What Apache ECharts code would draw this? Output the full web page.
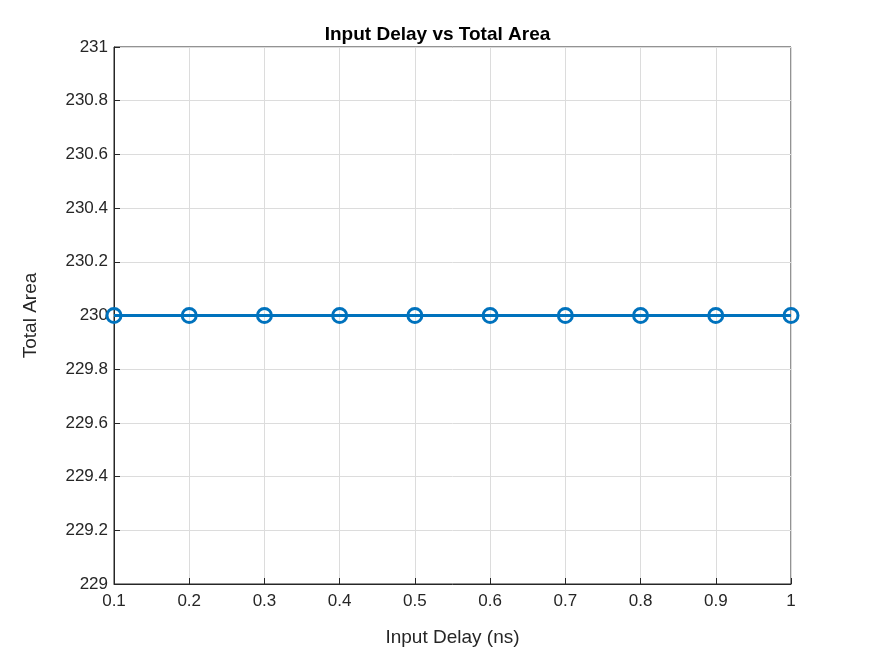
<!DOCTYPE html>
<html><head><meta charset="utf-8">
<script src="https://cdn.jsdelivr.net/npm/echarts@6/dist/echarts.min.js"></script>
<style>html,body{margin:0;background:#fff}#c{width:875px;height:656px}</style>
</head><body><div id="c"></div>
<script>
var delays = [0.1, 0.2, 0.3, 0.4, 0.5, 0.6, 0.7, 0.8, 0.9, 1.0];
var areas = [230, 230, 230, 230, 230, 230, 230, 230, 230, 230];

var chart = echarts.init(document.getElementById('c'));
var fmt = function (v) { return String(+v.toFixed(1)); };
var axisCommon = {
    axisLine: { show: true, lineStyle: { color: '#262626', width: 1 } },
    axisTick: { show: true, inside: true, length: 6, lineStyle: { color: '#262626' } },
    splitLine: { show: true, lineStyle: { color: '#dcdcdc', width: 1 } },
    axisLabel: { color: '#262626', fontSize: 17, fontFamily: 'Liberation Sans' },
    nameTextStyle: { color: '#262626', fontSize: 19, fontFamily: 'Liberation Sans' }
};
chart.setOption({
    title: {
        text: 'Input Delay vs Total Area', left: 'center', top: 20,
        textStyle: { fontSize: 19, fontWeight: 'bold', color: '#000', fontFamily: 'Liberation Sans' }
    },
    grid: { left: 114, right: 84, top: 47, bottom: 72, show: true, borderColor: '#262626', borderWidth: 1 },
    xAxis: Object.assign({}, axisCommon, {
        type: 'value', min: 0.1, max: 1, interval: 0.1,
        name: 'Input Delay (ns)', nameLocation: 'middle', nameGap: 44,
        axisLabel: Object.assign({}, axisCommon.axisLabel, { margin: 9, formatter: fmt })
    }),
    yAxis: Object.assign({}, axisCommon, {
        type: 'value', min: 229, max: 231, interval: 0.2,
        name: 'Total Area', nameLocation: 'middle', nameGap: 74,
        axisLabel: Object.assign({}, axisCommon.axisLabel, { margin: 6, formatter: fmt })
    }),
    series: [{
        type: 'line',
        data: delays.map(function (d, i) { return [d, areas[i]]; }),
        lineStyle: { color: '#0072BD', width: 3 },
        itemStyle: { color: 'rgba(0,0,0,0)', borderColor: '#0072BD', borderWidth: 3 },
        symbol: 'circle', symbolSize: 14,
        clip: false
    }]
});
</script>
</body></html>
